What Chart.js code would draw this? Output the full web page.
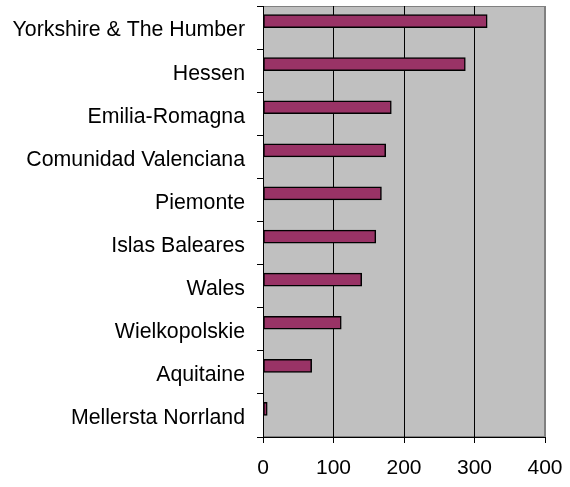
<!DOCTYPE html>
<html>
<head>
<meta charset="utf-8">
<script src="https://cdn.jsdelivr.net/npm/chart.js@4/dist/chart.umd.min.js"></script>
<style>
html,body{margin:0;padding:0;background:#fff;}
#wrap{width:570px;height:487px;position:relative;}
</style>
</head>
<body>
<div id="wrap"><canvas id="c" width="570" height="487"></canvas></div>
<script>
const categories = ["Yorkshire & The Humber","Hessen","Emilia-Romagna","Comunidad Valenciana","Piemonte","Islas Baleares","Wales","Wielkopolskie","Aquitaine","Mellersta Norrland"];
const values = [318, 287, 182, 174, 168, 160, 140, 111, 69, 6];
const xTicks = [0, 100, 200, 300, 400];

const plotBg = {
  id: 'plotBg',
  beforeDraw(chart) {
    const {ctx, chartArea: a} = chart;
    ctx.save();
    ctx.fillStyle = '#C0C0C0';
    ctx.fillRect(a.left, a.top, a.right - a.left, a.bottom - a.top);
    ctx.strokeStyle = '#808080';
    ctx.lineWidth = 1;
    ctx.strokeRect(a.left + 0.5, a.top + 0.5, a.right - a.left - 1, a.bottom - a.top - 1);
    ctx.restore();
  }
};

new Chart(document.getElementById('c'), {
  type: 'bar',
  data: {
    labels: categories,
    datasets: [
      {data: values, backgroundColor: '#993366', borderColor: '#000', borderWidth: 1.5, borderSkipped: false, barThickness: 13},
      {data: categories.map(() => null), backgroundColor: 'transparent', barThickness: 13}
    ]
  },
  options: {
    indexAxis: 'y',
    responsive: false,
    animation: false,
    layout: {padding: {top: 6, right: 25, left: 0, bottom: 0}},
    plugins: {legend: {display: false}, tooltip: {enabled: false}},
    scales: {
      x: {
        min: xTicks[0], max: xTicks[xTicks.length - 1],
        afterBuildTicks(s) { s.ticks = xTicks.map(v => ({value: v})); },
        afterFit(s) { s.height = 50; s.paddingLeft = 0; s.paddingRight = 0; },
        grid: {
          color: c => (c.tick && c.tick.value === 400) ? '#808080' : '#000',
          tickColor: '#000', tickLength: 6, lineWidth: 1
        },
        border: {color: '#000', width: 1},
        ticks: {color: '#000', font: {family: 'Liberation Sans', size: 21}, padding: 13, maxRotation: 0}
      },
      y: {
        afterFit(s) { s.width = 263; s.paddingTop = 0; s.paddingBottom = 0; },
        grid: {drawOnChartArea: false, offset: true, tickColor: '#000', tickLength: 6},
        border: {color: '#000', width: 1},
        ticks: {color: '#000', font: {family: 'Liberation Sans', size: 21.3}, padding: 12, autoSkip: false, labelOffset: 3}
      }
    }
  },
  plugins: [plotBg]
});
</script>
</body>
</html>
